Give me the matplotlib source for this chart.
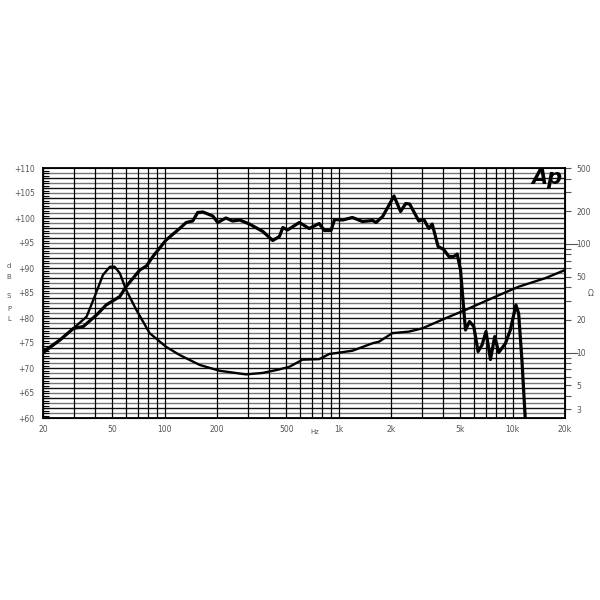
import matplotlib
matplotlib.use("Agg")
import matplotlib.pyplot as plt

# SPL response (Hz, dB)
spl_freq = [20, 25, 29.9, 34.1, 40.6, 46.1, 55.3, 60.1, 72, 78.6, 85.6, 102, 122, 133,
            145, 155, 166, 189, 202, 225, 246, 270, 307, 367, 418, 457, 478, 508, 595,
            677, 773, 828, 904, 948, 1056, 1200, 1370, 1570, 1640, 1790, 1950, 2080,
            2270, 2430, 2560, 2890, 3090, 3300, 3450, 3730, 4020, 4300, 4590, 4800,
            5020, 5240, 5360, 5650, 5980, 6330, 6670, 7030, 7460, 7890, 8320, 9090,
            9700, 10450, 10830, 11310, 11830, 12300]
spl_db = [73.2, 75.6, 77.9, 78.3, 80.6, 82.6, 84.3, 86.3, 89.6, 90.4, 92.3, 95.6, 97.9, 99.1,
          99.4, 101.1, 101.2, 100.4, 99.1, 100.0, 99.4, 99.6, 98.8, 97.3, 95.5, 96.3, 98.1,
          97.6, 99.1, 97.9, 98.9, 97.5, 97.5, 99.7, 99.6, 100.1, 99.3, 99.5, 99.1, 100.3,
          102.6, 104.4, 101.3, 102.9, 102.8, 99.4, 99.7, 97.9, 98.8, 94.3, 93.7, 92.3,
          92.3, 92.8, 89.6, 81.6, 77.6, 79.3, 78.3, 73.3, 74.6, 77.3, 71.7, 76.3, 73.1,
          74.9, 77.6, 82.6, 80.9, 71.6, 59.6, 55.0]

# impedance (Hz, ohm)
imp_freq = [20, 25, 29.9, 35.6, 39.6, 44.2, 48.5, 51.6, 55.3, 60.1, 68.8, 82, 102, 122,
            159, 207, 294, 366, 456, 521, 620, 773, 883, 1200, 1570, 1707, 2035, 2536,
            3022, 4116, 5358, 7962, 10829, 15400, 20000]
imp_ohm = [9.85, 13.0, 16.7, 21.4, 32.7, 51.8, 61.7, 61.7, 53.7, 37.7, 24.7, 15.1, 11.3,
           9.5, 7.7, 6.8, 6.3, 6.5, 7.0, 7.4, 8.6, 8.7, 9.7, 10.4, 12.2, 12.6, 15.1, 15.6,
           16.7, 20.7, 24.7, 32.7, 40.4, 48.4, 57.5]

x_ticks = [20, 50, 100, 200, 500, 1000, 2000, 5000, 10000, 20000]
x_labels = ["20", "50", "100", "200", "500", "1k", "2k", "5k", "10k", "20k"]
x_grid = [30, 40, 60, 70, 80, 90, 300, 400, 600, 700, 800, 900,
          3000, 4000, 6000, 7000, 8000, 9000]
z_ticks = [3, 5, 10, 20, 50, 100, 200, 500]
z_minor = [4, 6, 7, 8, 9, 30, 40, 60, 70, 80, 90, 300, 400]

lab = dict(fontsize=5.5, color="#555555")

fig = plt.figure(figsize=(6, 6), dpi=100)
ax = fig.add_axes([43 / 600, 1 - 418 / 600, 522 / 600, 250 / 600])
ax.set_xscale("log")
ax.set_xlim(20, 20000)
ax.set_ylim(60, 110)

# dense horizontal grid, one line per dB
for d in range(61, 110):
    ax.axhline(d, color="#111111" if d % 2 == 0 else "#777777", lw=1.0, zorder=1)

ax.set_xticks(x_ticks)
ax.set_xticklabels(x_labels, **lab)
ax.set_xticks(x_grid, minor=True)
ax.grid(which="both", axis="x", color="black", lw=0.9, zorder=1)
ax.tick_params(axis="x", which="both", length=0, pad=5)

ax.set_yticks(range(60, 111, 5))
ax.set_yticklabels(["+%d" % v for v in range(60, 111, 5)], **lab)
ax.set_yticks([v / 2 for v in range(120, 221)], minor=True)
ax.tick_params(axis="y", which="both", direction="in", length=4.5, width=0.8, pad=6)
ax.tick_params(axis="y", which="major", length=4.5)
for s in ax.spines.values():
    s.set_linewidth(1.3)

ax.plot(spl_freq, spl_db, color="black", lw=2.3, zorder=5, solid_joinstyle="round")

ax2 = ax.twinx()
ax2.set_yscale("log")
ax2.set_ylim(2.5, 500)
ax2.plot(imp_freq, imp_ohm, color="black", lw=1.7, zorder=5, solid_joinstyle="round")
ax2.set_yticks(z_ticks)
ax2.set_yticklabels([str(v) for v in z_ticks], **lab)
ax2.set_yticks(z_minor, minor=True)
ax2.yaxis.set_minor_formatter(plt.NullFormatter())
ax2.tick_params(axis="y", which="both", direction="out", length=4, width=0.8, pad=4,
                colors="#555555")
ax2.tick_params(axis="y", which="major", labelcolor="#555555")
for t in ax2.yaxis.get_major_ticks():
    if t.get_loc() in (10, 100):
        t.tick2line.set_markersize(9)

# axis words and logo
fig.text(315 / 600, 1 - 432 / 600, "Hz", ha="center", va="center", fontsize=5, color="#555555")
for ch, yy in zip("dBSPL", [266, 277, 296, 309, 319]):
    fig.text(9 / 600, 1 - yy / 600, ch, ha="center", va="center", fontsize=5, color="#555555")
fig.text(591 / 600, 1 - 294 / 600, "Ω", ha="center", va="center", fontsize=5.5, color="#555555")
fig.text(547 / 600, 1 - 178 / 600, "Ap", ha="center", va="center", fontsize=15,
         fontweight="heavy", fontstyle="italic", color="black")

fig.savefig("out.png", dpi=100, facecolor="white")
